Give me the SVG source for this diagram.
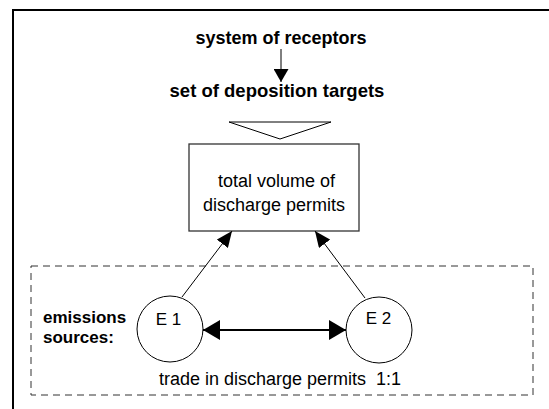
<svg xmlns="http://www.w3.org/2000/svg" width="549" height="409" viewBox="0 0 549 409">
<style>
.t{font-family:"Liberation Sans",Arial,sans-serif;fill:#000}
.b{font-weight:bold;font-size:18px}
.n{font-size:18px}
.s{font-size:17px}
.ln{stroke:#000;stroke-width:1;fill:none}
</style>
<defs>
<marker id="ah" markerUnits="userSpaceOnUse" markerWidth="17" markerHeight="14" refX="16" refY="7" orient="auto">
<path d="M0,0 L16,7 L0,14 z" fill="#000"/>
</marker>
<marker id="ahd" markerUnits="userSpaceOnUse" markerWidth="14" markerHeight="15" refX="13" refY="7.5" orient="auto">
<path d="M0,0 L13,7.5 L0,15 z" fill="#000"/>
</marker>
<marker id="ahw" markerUnits="userSpaceOnUse" markerWidth="18" markerHeight="20" refX="17" refY="10" orient="auto-start-reverse">
<path d="M0,0 L17,10 L0,20 z" fill="#000"/>
</marker>
</defs>
<rect width="549" height="409" fill="#fff"/>
<g id="frame">
<path d="M13,409 V10 H549" fill="none" stroke="#000" stroke-width="2"/>
</g>
<g id="sources-group">
<rect x="31" y="266" width="502" height="129" fill="none" stroke="#333" stroke-width="1" stroke-dasharray="7,5"/>
<text class="t b" x="43" y="323" style="font-size:17px">emissions</text>
<text class="t b" x="43" y="343" style="font-size:17px">sources:</text>
<text class="t n" x="280" y="385" text-anchor="middle">trade in discharge permits&#160; 1:1</text>
</g>
<g id="receptors">
<text class="t b" x="281" y="44" text-anchor="middle">system of receptors</text>
</g>
<g id="targets">
<text class="t b" x="277" y="97" text-anchor="middle" style="font-size:18.5px">set of deposition targets</text>
<polygon points="229,122 331,122 280,139" fill="#fff" stroke="#000" stroke-width="1"/>
</g>
<g id="volume">
<rect x="189" y="144" width="170" height="87" fill="#fff" stroke="#333" stroke-width="1.3"/>
<text class="t n" x="276.5" y="187" text-anchor="middle">total volume of</text>
<text class="t n" x="274" y="211" text-anchor="middle">discharge permits</text>
</g>
<g id="e1">
<circle cx="170" cy="329" r="33" fill="#fff" stroke="#000" stroke-width="1"/>
<text class="t s" x="168.5" y="325" text-anchor="middle">E 1</text>
</g>
<g id="e2">
<circle cx="379" cy="330" r="33" fill="#fff" stroke="#000" stroke-width="1"/>
<text class="t s" x="378.5" y="324" text-anchor="middle">E 2</text>
</g>
<g id="connectors">
<line class="ln" x1="281" y1="49" x2="281" y2="82" marker-end="url(#ahd)"/>
<line class="ln" x1="182" y1="297" x2="232" y2="231" marker-end="url(#ah)"/>
<line class="ln" x1="365" y1="298" x2="315" y2="231" marker-end="url(#ah)"/>
<line x1="203" y1="330" x2="346" y2="330" stroke="#000" stroke-width="2" marker-start="url(#ahw)" marker-end="url(#ahw)"/>
</g>
</svg>
